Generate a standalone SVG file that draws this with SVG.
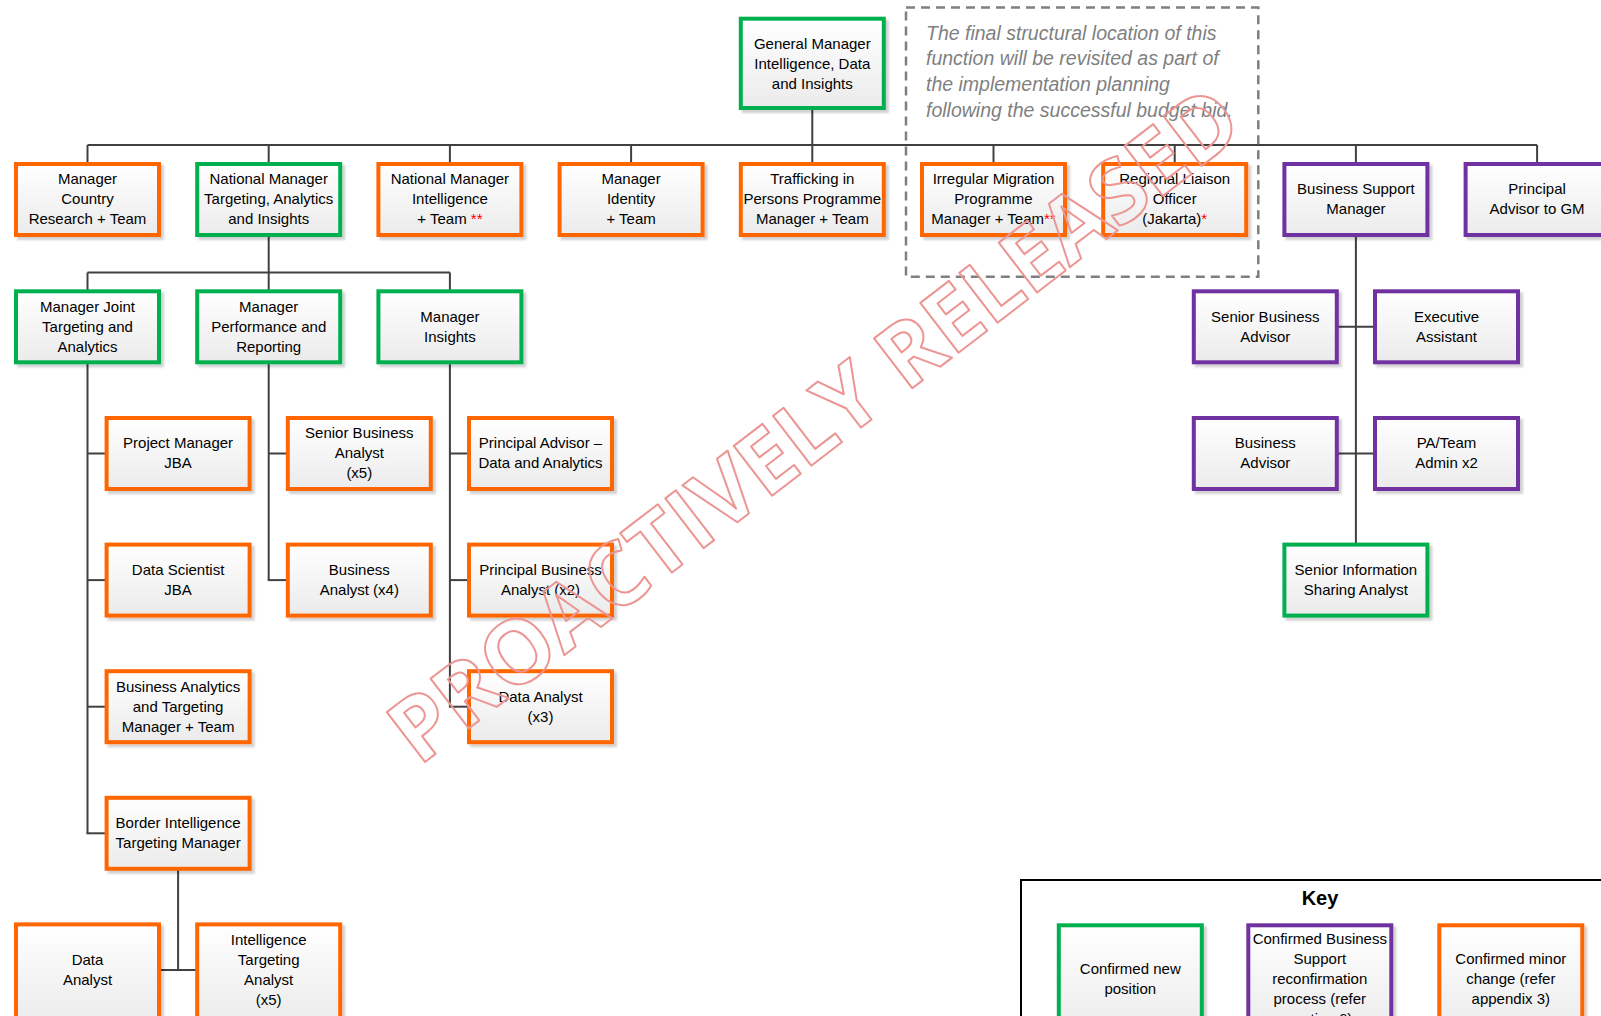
<svg xmlns="http://www.w3.org/2000/svg" width="1601" height="1016" viewBox="0 0 1601 1016">
<defs>
<linearGradient id="bg" x1="0" y1="0" x2="0" y2="1">
<stop offset="0" stop-color="#ffffff"/>
<stop offset="1" stop-color="#ebebeb"/>
</linearGradient>
<filter id="sh" x="-5%" y="-5%" width="115%" height="125%">
<feDropShadow dx="3" dy="3" stdDeviation="1.3" flood-color="#000" flood-opacity="0.18"/>
</filter>
<style>
.box{fill:url(#bg);stroke-width:4;filter:url(#sh)}
.o{stroke:#ff6600}
.g{stroke:#00b050}
.p{stroke:#7030a0}
.t{font-family:"Liberation Sans",Arial,sans-serif;font-size:15px;text-anchor:middle;fill:#000}
.r{fill:#ff0000}
#connectors line{stroke:#404040;stroke-width:2}
.note{font-family:"Liberation Sans",Arial,sans-serif;font-size:19.5px;font-style:italic;fill:#7f7f7f}
.wm{font-family:"Open Sans","Liberation Sans",sans-serif;font-size:88px;font-weight:700;fill:none;stroke:#ec9694;stroke-width:2;stroke-linejoin:round;text-anchor:middle}
</style>
</defs>
<rect width="1601" height="1016" fill="#ffffff"/>

<g id="connectors">
<line x1="812.3" y1="108" x2="812.3" y2="145"/>
<line x1="87.5" y1="145" x2="1537.1" y2="145"/>
<line x1="87.5" y1="145" x2="87.5" y2="163"/>
<line x1="268.7" y1="145" x2="268.7" y2="163"/>
<line x1="449.9" y1="145" x2="449.9" y2="163"/>
<line x1="631.1" y1="145" x2="631.1" y2="163"/>
<line x1="812.3" y1="145" x2="812.3" y2="163"/>
<line x1="993.5" y1="145" x2="993.5" y2="163"/>
<line x1="1174.7" y1="145" x2="1174.7" y2="163"/>
<line x1="1355.9" y1="145" x2="1355.9" y2="163"/>
<line x1="1537.1" y1="145" x2="1537.1" y2="163"/>
<line x1="268.7" y1="236" x2="268.7" y2="272.5"/>
<line x1="87.5" y1="272.5" x2="449.9" y2="272.5"/>
<line x1="87.5" y1="272.5" x2="87.5" y2="290"/>
<line x1="268.7" y1="272.5" x2="268.7" y2="290"/>
<line x1="449.9" y1="272.5" x2="449.9" y2="290"/>
<line x1="87.5" y1="363" x2="87.5" y2="833.3"/>
<line x1="87.5" y1="453.5" x2="105" y2="453.5"/>
<line x1="87.5" y1="580.1" x2="105" y2="580.1"/>
<line x1="87.5" y1="706.7" x2="105" y2="706.7"/>
<line x1="86.5" y1="833.3" x2="105" y2="833.3"/>
<line x1="268.7" y1="363" x2="268.7" y2="580.1"/>
<line x1="268.7" y1="453.5" x2="286" y2="453.5"/>
<line x1="267.7" y1="580.1" x2="286" y2="580.1"/>
<line x1="449.9" y1="363" x2="449.9" y2="706.7"/>
<line x1="449.9" y1="453.5" x2="467" y2="453.5"/>
<line x1="449.9" y1="580.1" x2="467" y2="580.1"/>
<line x1="448.9" y1="706.7" x2="467" y2="706.7"/>
<line x1="178.1" y1="869" x2="178.1" y2="970"/>
<line x1="160" y1="970" x2="196" y2="970"/>
<line x1="1355.9" y1="236" x2="1355.9" y2="543"/>
<line x1="1338" y1="326.8" x2="1374" y2="326.8"/>
<line x1="1338" y1="453.5" x2="1374" y2="453.5"/>
</g>

<g id="n_gm"><rect class="box g" x="740.8" y="18.7" width="143" height="89.3"/>
<text class="t"><tspan x="812.3" y="48.6">General Manager</tspan><tspan x="812.3" y="68.6">Intelligence, Data</tspan><tspan x="812.3" y="88.6">and Insights</tspan></text></g>

<g id="n_country"><rect class="box o" x="16" y="164" width="143" height="71"/>
<text class="t"><tspan x="87.5" y="184.3">Manager</tspan><tspan x="87.5" y="204.3">Country</tspan><tspan x="87.5" y="224.3">Research + Team</tspan></text></g>

<g id="n_nmtai"><rect class="box g" x="197.2" y="164" width="143" height="71"/>
<text class="t"><tspan x="268.7" y="184.3">National Manager</tspan><tspan x="268.7" y="204.3">Targeting, Analytics</tspan><tspan x="268.7" y="224.3">and Insights</tspan></text></g>

<g id="n_nmi"><rect class="box o" x="378.4" y="164" width="143" height="71"/>
<text class="t"><tspan x="449.9" y="184.3">National Manager</tspan><tspan x="449.9" y="204.3">Intelligence</tspan><tspan x="449.9" y="224.3">+ Team <tspan class="r">**</tspan></tspan></text></g>

<g id="n_identity"><rect class="box o" x="559.6" y="164" width="143" height="71"/>
<text class="t"><tspan x="631.1" y="184.3">Manager</tspan><tspan x="631.1" y="204.3">Identity</tspan><tspan x="631.1" y="224.3">+ Team</tspan></text></g>

<g id="n_trafficking"><rect class="box o" x="740.8" y="164" width="143" height="71"/>
<text class="t"><tspan x="812.3" y="184.3">Trafficking in</tspan><tspan x="812.3" y="204.3">Persons Programme</tspan><tspan x="812.3" y="224.3">Manager + Team</tspan></text></g>

<g id="n_irregular"><rect class="box o" x="922" y="164" width="143" height="71"/>
<text class="t"><tspan x="993.5" y="184.3">Irregular Migration</tspan><tspan x="993.5" y="204.3">Programme</tspan><tspan x="993.5" y="224.3">Manager + Team<tspan class="r">**</tspan></tspan></text></g>

<g id="n_regional"><rect class="box o" x="1103.2" y="164" width="143" height="71"/>
<text class="t"><tspan x="1174.7" y="184.3">Regional Liaison</tspan><tspan x="1174.7" y="204.3">Officer</tspan><tspan x="1174.7" y="224.3">(Jakarta)<tspan class="r">*</tspan></tspan></text></g>

<g id="n_bsm"><rect class="box p" x="1284.4" y="164" width="143" height="71"/>
<text class="t"><tspan x="1355.9" y="194.3">Business Support</tspan><tspan x="1355.9" y="214.3">Manager</tspan></text></g>

<g id="n_pagm"><rect class="box p" x="1465.6" y="164" width="143" height="71"/>
<text class="t"><tspan x="1537.1" y="194.3">Principal</tspan><tspan x="1537.1" y="214.3">Advisor to GM</tspan></text></g>

<g id="n_mjta"><rect class="box g" x="16" y="291.3" width="143" height="71"/>
<text class="t"><tspan x="87.5" y="311.6">Manager Joint</tspan><tspan x="87.5" y="331.6">Targeting and</tspan><tspan x="87.5" y="351.6">Analytics</tspan></text></g>

<g id="n_mpr"><rect class="box g" x="197.2" y="291.3" width="143" height="71"/>
<text class="t"><tspan x="268.7" y="311.6">Manager</tspan><tspan x="268.7" y="331.6">Performance and</tspan><tspan x="268.7" y="351.6">Reporting</tspan></text></g>

<g id="n_mi"><rect class="box g" x="378.4" y="291.3" width="143" height="71"/>
<text class="t"><tspan x="449.9" y="321.6">Manager</tspan><tspan x="449.9" y="341.6">Insights</tspan></text></g>

<g id="n_sba"><rect class="box p" x="1193.8" y="291.3" width="143" height="71"/>
<text class="t"><tspan x="1265.3" y="321.6">Senior Business</tspan><tspan x="1265.3" y="341.6">Advisor</tspan></text></g>

<g id="n_ea"><rect class="box p" x="1375" y="291.3" width="143" height="71"/>
<text class="t"><tspan x="1446.5" y="321.6">Executive</tspan><tspan x="1446.5" y="341.6">Assistant</tspan></text></g>

<g id="n_pmjba"><rect class="box o" x="106.6" y="418" width="143" height="71"/>
<text class="t"><tspan x="178.1" y="448.3">Project Manager</tspan><tspan x="178.1" y="468.3">JBA</tspan></text></g>

<g id="n_senba"><rect class="box o" x="287.8" y="418" width="143" height="71"/>
<text class="t"><tspan x="359.3" y="438.3">Senior Business</tspan><tspan x="359.3" y="458.3">Analyst</tspan><tspan x="359.3" y="478.3">(x5)</tspan></text></g>

<g id="n_padata"><rect class="box o" x="469" y="418" width="143" height="71"/>
<text class="t"><tspan x="540.5" y="448.3">Principal Advisor –</tspan><tspan x="540.5" y="468.3">Data and Analytics</tspan></text></g>

<g id="n_ba"><rect class="box p" x="1193.8" y="418" width="143" height="71"/>
<text class="t"><tspan x="1265.3" y="448.3">Business</tspan><tspan x="1265.3" y="468.3">Advisor</tspan></text></g>

<g id="n_pateam"><rect class="box p" x="1375" y="418" width="143" height="71"/>
<text class="t"><tspan x="1446.5" y="448.3">PA/Team</tspan><tspan x="1446.5" y="468.3">Admin x2</tspan></text></g>

<g id="n_dsjba"><rect class="box o" x="106.6" y="544.6" width="143" height="71"/>
<text class="t"><tspan x="178.1" y="574.9">Data Scientist</tspan><tspan x="178.1" y="594.9">JBA</tspan></text></g>

<g id="n_ba4"><rect class="box o" x="287.8" y="544.6" width="143" height="71"/>
<text class="t"><tspan x="359.3" y="574.9">Business</tspan><tspan x="359.3" y="594.9">Analyst (x4)</tspan></text></g>

<g id="n_pba"><rect class="box o" x="469" y="544.6" width="143" height="71"/>
<text class="t"><tspan x="540.5" y="574.9">Principal Business</tspan><tspan x="540.5" y="594.9">Analyst (x2)</tspan></text></g>

<g id="n_sisa"><rect class="box g" x="1284.4" y="544.6" width="143" height="71"/>
<text class="t"><tspan x="1355.9" y="574.9">Senior Information</tspan><tspan x="1355.9" y="594.9">Sharing Analyst</tspan></text></g>

<g id="n_batm"><rect class="box o" x="106.6" y="671.2" width="143" height="71"/>
<text class="t"><tspan x="178.1" y="691.5">Business Analytics</tspan><tspan x="178.1" y="711.5">and Targeting</tspan><tspan x="178.1" y="731.5">Manager + Team</tspan></text></g>

<g id="n_da3"><rect class="box o" x="469" y="671.2" width="143" height="71"/>
<text class="t"><tspan x="540.5" y="701.5">Data Analyst</tspan><tspan x="540.5" y="721.5">(x3)</tspan></text></g>

<g id="n_bitm"><rect class="box o" x="106.6" y="797.8" width="143" height="71"/>
<text class="t"><tspan x="178.1" y="828.1">Border Intelligence</tspan><tspan x="178.1" y="848.1">Targeting Manager</tspan></text></g>

<g id="n_da"><rect class="box o" x="16" y="924.4" width="143" height="100"/>
<text class="t"><tspan x="87.5" y="964.8">Data</tspan><tspan x="87.5" y="984.8">Analyst</tspan></text></g>

<g id="n_ita"><rect class="box o" x="197.2" y="924.4" width="143" height="100"/>
<text class="t"><tspan x="268.7" y="944.8">Intelligence</tspan><tspan x="268.7" y="964.8">Targeting</tspan><tspan x="268.7" y="984.8">Analyst</tspan><tspan x="268.7" y="1004.8">(x5)</tspan></text></g>

<g id="note">
<rect x="906" y="7.5" width="352.3" height="269.2" fill="none" stroke="#7f7f7f" stroke-width="2.5" stroke-dasharray="9 6"/>
<text class="note"><tspan x="926" y="39.5">The final structural location of this</tspan><tspan x="926" y="65.3">function will be revisited as part of</tspan><tspan x="926" y="91">the implementation planning</tspan><tspan x="926" y="116.8">following the successful budget bid.</tspan></text>
</g>

<g id="key">
<rect x="1021" y="880" width="700" height="200" fill="#ffffff" stroke="#000" stroke-width="2"/>
<text x="1320" y="905" font-family="Liberation Sans, Arial, sans-serif" font-size="20" font-weight="bold" text-anchor="middle">Key</text>
<g id="k_new"><rect class="box g" x="1058.8" y="925.3" width="143" height="108"/>
<text class="t"><tspan x="1130.3" y="974.3">Confirmed new</tspan><tspan x="1130.3" y="994.3">position</tspan></text></g>
<g id="k_support"><rect class="box p" x="1248.3" y="925.3" width="143" height="108"/>
<text class="t"><tspan x="1319.8" y="944.3">Confirmed Business</tspan><tspan x="1319.8" y="964.3">Support</tspan><tspan x="1319.8" y="984.3">reconfirmation</tspan><tspan x="1319.8" y="1004.3">process (refer</tspan><tspan x="1319.8" y="1024.3">section 6)</tspan></text></g>
<g id="k_minor"><rect class="box o" x="1439.3" y="925.3" width="143" height="108"/>
<text class="t"><tspan x="1510.8" y="964.3">Confirmed minor</tspan><tspan x="1510.8" y="984.3">change (refer</tspan><tspan x="1510.8" y="1004.3">appendix 3)</tspan></text></g>
</g>

<g id="watermark">
<text class="wm" transform="translate(833,449) rotate(-37.5)" x="0" y="0">PROACTIVELY RELEASED</text>
</g>
</svg>
